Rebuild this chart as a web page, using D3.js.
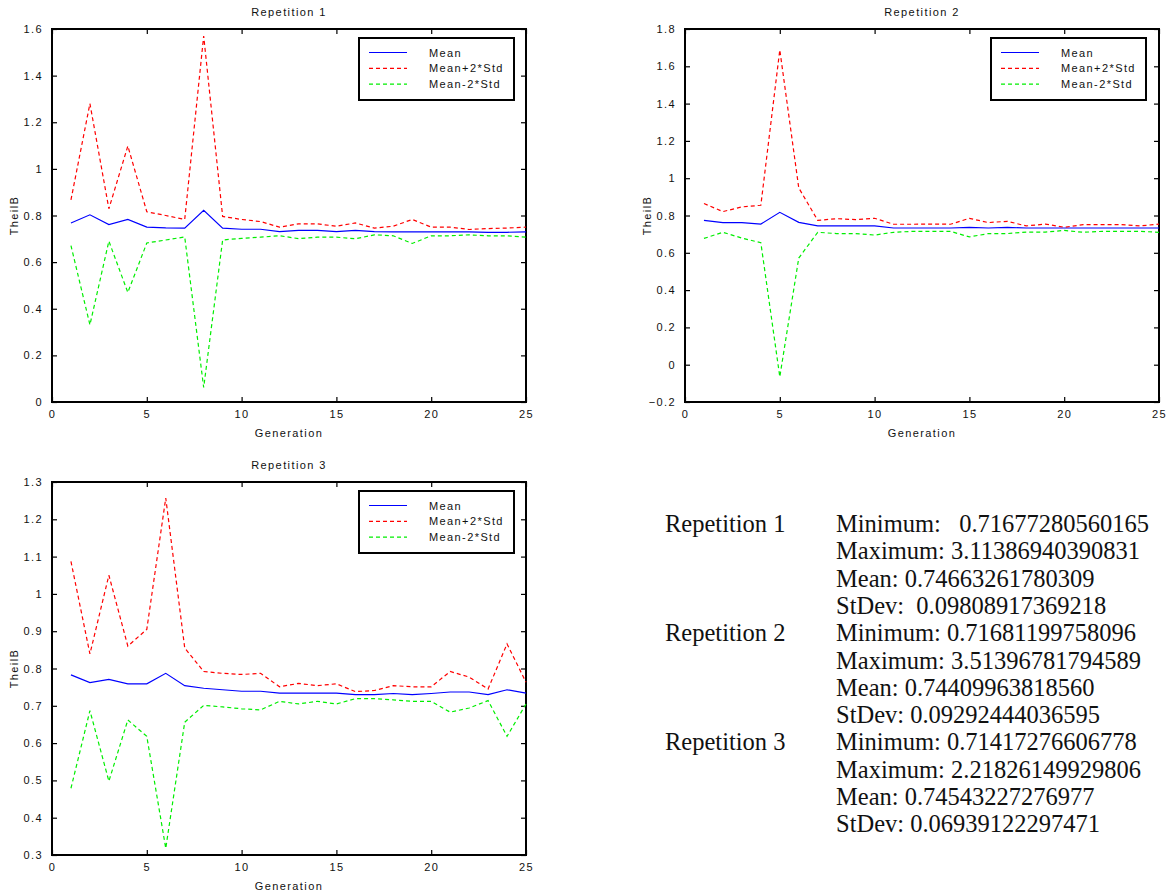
<!DOCTYPE html>
<html>
<head>
<meta charset="utf-8">
<script src="https://cdn.jsdelivr.net/npm/d3@7"></script>
<style>
  body { margin: 0; background: #fff; }
  svg text { font-family: Arial, "Liberation Sans", sans-serif; }
  svg text.stat { font-family: "Liberation Serif", "Times New Roman", serif; font-size: 24.5px; white-space: pre; }
</style>
</head>
<body>
<div id="chart"></div>
<script>
'use strict';

var generations = d3.range(1, 26);
var seriesNames = ['Mean', 'Mean+2*Std', 'Mean-2*Std'];

// Repetition 1
var rep1Mean = [0.768, 0.803, 0.761, 0.783, 0.750, 0.747, 0.746, 0.822, 0.746, 0.741,
                0.741, 0.731, 0.736, 0.736, 0.731, 0.736, 0.731, 0.730, 0.730, 0.730,
                0.730, 0.730, 0.728, 0.728, 0.730];
var rep1Upper = [0.867, 1.280, 0.829, 1.098, 0.816, 0.800, 0.783, 1.570, 0.796, 0.783,
                 0.774, 0.750, 0.764, 0.764, 0.754, 0.768, 0.746, 0.754, 0.783, 0.750,
                 0.750, 0.740, 0.744, 0.746, 0.750];
var rep1Lower = [0.671, 0.331, 0.690, 0.470, 0.682, 0.695, 0.708, 0.062, 0.695, 0.702,
                 0.707, 0.713, 0.701, 0.707, 0.707, 0.700, 0.717, 0.713, 0.680, 0.713,
                 0.713, 0.717, 0.713, 0.713, 0.707];

// Repetition 2
var rep2Mean = [0.774, 0.762, 0.762, 0.754, 0.817, 0.763, 0.744, 0.744, 0.744, 0.744,
                0.733, 0.733, 0.733, 0.733, 0.736, 0.733, 0.736, 0.733, 0.733, 0.733,
                0.733, 0.733, 0.733, 0.733, 0.733];
var rep2Upper = [0.864, 0.821, 0.846, 0.855, 1.688, 0.948, 0.774, 0.783, 0.778, 0.785,
                 0.753, 0.753, 0.754, 0.753, 0.785, 0.762, 0.769, 0.744, 0.754, 0.737,
                 0.751, 0.751, 0.751, 0.744, 0.754];
var rep2Lower = [0.677, 0.710, 0.679, 0.654, -0.065, 0.572, 0.710, 0.703, 0.703, 0.695,
                 0.710, 0.715, 0.715, 0.715, 0.685, 0.703, 0.703, 0.711, 0.711, 0.720,
                 0.710, 0.715, 0.715, 0.715, 0.710];

// Repetition 3
var rep3Mean = [0.783, 0.762, 0.771, 0.759, 0.759, 0.787, 0.754, 0.747, 0.743, 0.739,
                0.739, 0.734, 0.734, 0.734, 0.734, 0.730, 0.730, 0.733, 0.730, 0.733,
                0.737, 0.737, 0.730, 0.743, 0.734];
var rep3Upper = [1.087, 0.839, 1.050, 0.860, 0.905, 1.257, 0.855, 0.792, 0.787, 0.784,
                 0.787, 0.751, 0.760, 0.754, 0.759, 0.738, 0.741, 0.754, 0.751, 0.751,
                 0.792, 0.777, 0.745, 0.866, 0.763];
var rep3Lower = [0.479, 0.687, 0.498, 0.662, 0.618, 0.318, 0.656, 0.701, 0.697, 0.692,
                 0.689, 0.712, 0.705, 0.712, 0.705, 0.719, 0.719, 0.716, 0.712, 0.712,
                 0.683, 0.694, 0.714, 0.618, 0.705];

var xTicks = [0, 5, 10, 15, 20, 25];
var rep1YTicks = [0, 0.2, 0.4, 0.6, 0.8, 1, 1.2, 1.4, 1.6];
var rep2YTicks = [-0.2, 0, 0.2, 0.4, 0.6, 0.8, 1, 1.2, 1.4, 1.6, 1.8];
var rep3YTicks = [0.3, 0.4, 0.5, 0.6, 0.7, 0.8, 0.9, 1, 1.1, 1.2, 1.3];

var statsLabels = ['Repetition 1', '', '', '', 'Repetition 2', '', '', '', 'Repetition 3', '', '', ''];
var statsValues = [
    'Minimum:   0.71677280560165', 'Maximum: 3.11386940390831',
    'Mean: 0.74663261780309', 'StDev:  0.09808917369218',
    'Minimum: 0.71681199758096', 'Maximum: 3.51396781794589',
    'Mean: 0.74409963818560', 'StDev: 0.09292444036595',
    'Minimum: 0.71417276606778', 'Maximum: 2.21826149929806',
    'Mean: 0.74543227276977', 'StDev: 0.06939122297471'
];

var colors = ['#0000ff', '#ff0000', '#00ee00'];
var dashes = [null, '4,3', '4,3'];
var letterSpacing = '1.4px';

var svg = d3.select('#chart').append('svg')
    .attr('width', 1176)
    .attr('height', 894);

function drawPanel(opts) {
    var w = 474, h = 373;
    var g = svg.append('g')
        .attr('transform', 'translate(' + opts.left + ',' + opts.top + ')');

    var x = d3.scaleLinear().domain([0, 25]).range([0, w]);
    var y = d3.scaleLinear().domain(opts.yDomain).range([h, 0]);
    var fmt = d3.format('~g');

    // ticks on all four sides, pointing in
    g.append('g').attr('transform', 'translate(0,' + h + ')')
        .call(d3.axisBottom(x).tickValues(xTicks).tickSize(-5).tickPadding(8).tickFormat(fmt));
    g.append('g')
        .call(d3.axisTop(x).tickValues(xTicks).tickSize(-5).tickFormat(''));
    g.append('g')
        .call(d3.axisLeft(y).tickValues(opts.yTicks).tickSize(-5).tickPadding(9).tickFormat(fmt));
    g.append('g').attr('transform', 'translate(' + w + ',0)')
        .call(d3.axisRight(y).tickValues(opts.yTicks).tickSize(-5).tickFormat(''));

    g.selectAll('.domain').remove();
    g.selectAll('.tick line').attr('stroke', '#000').attr('stroke-width', 1.2);
    g.selectAll('.tick text')
        .attr('fill', '#111')
        .style('font-size', '11px')
        .style('letter-spacing', letterSpacing);

    g.append('rect')
        .attr('width', w).attr('height', h)
        .attr('fill', 'none')
        .attr('stroke', '#000')
        .attr('stroke-width', 2);

    var line = d3.line()
        .x(function(d, i) { return x(generations[i]); })
        .y(function(d) { return y(d); });

    opts.series.forEach(function(values, i) {
        g.append('path')
            .datum(values)
            .attr('d', line)
            .attr('fill', 'none')
            .attr('stroke', colors[i])
            .attr('stroke-width', 1.2)
            .attr('stroke-dasharray', dashes[i]);
    });

    g.append('text')
        .attr('x', w / 2).attr('y', -13)
        .attr('text-anchor', 'middle')
        .style('font-size', '11px')
        .style('letter-spacing', letterSpacing)
        .attr('fill', '#111')
        .text(opts.title);

    g.append('text')
        .attr('x', w / 2).attr('y', h + 35)
        .attr('text-anchor', 'middle')
        .style('font-size', '11px')
        .style('letter-spacing', letterSpacing)
        .attr('fill', '#111')
        .text('Generation');

    g.append('text')
        .attr('transform', 'translate(' + (-34) + ',' + (h / 2) + ') rotate(-90)')
        .attr('text-anchor', 'middle')
        .style('font-size', '11px')
        .style('letter-spacing', letterSpacing)
        .attr('fill', '#111')
        .text('TheilB');

    // legend
    var lg = g.append('g').attr('transform', 'translate(' + opts.legendX + ',9)');
    lg.append('rect')
        .attr('width', 155).attr('height', 62)
        .attr('fill', '#fff')
        .attr('stroke', '#000')
        .attr('stroke-width', 2);
    seriesNames.forEach(function(name, i) {
        var ry = 14.5 + i * 15.8;
        lg.append('line')
            .attr('x1', 10).attr('x2', 48)
            .attr('y1', ry).attr('y2', ry)
            .attr('stroke', colors[i])
            .attr('stroke-width', 1.2)
            .attr('stroke-dasharray', dashes[i]);
        lg.append('text')
            .attr('x', 70).attr('y', ry + 4)
            .style('font-size', '11px')
            .style('letter-spacing', letterSpacing)
            .attr('fill', '#111')
            .text(name);
    });
}

drawPanel({
    left: 52, top: 29, title: 'Repetition 1',
    yDomain: [0, 1.6], yTicks: rep1YTicks, legendX: 307,
    series: [rep1Mean, rep1Upper, rep1Lower]
});
drawPanel({
    left: 685, top: 29, title: 'Repetition 2',
    yDomain: [-0.2, 1.8], yTicks: rep2YTicks, legendX: 306,
    series: [rep2Mean, rep2Upper, rep2Lower]
});
drawPanel({
    left: 52, top: 482, title: 'Repetition 3',
    yDomain: [0.3, 1.3], yTicks: rep3YTicks, legendX: 307,
    series: [rep3Mean, rep3Upper, rep3Lower]
});

// summary statistics
var stats = svg.append('g').attr('fill', '#111');
statsValues.forEach(function(s, i) {
    var yy = 532 + i * 27.3;
    if (statsLabels[i]) {
        stats.append('text').attr('class', 'stat')
            .attr('x', 665).attr('y', yy).text(statsLabels[i]);
    }
    stats.append('text').attr('class', 'stat')
        .attr('x', 836).attr('y', yy)
        .attr('xml:space', 'preserve')
        .text(s);
});
</script>
</body>
</html>
